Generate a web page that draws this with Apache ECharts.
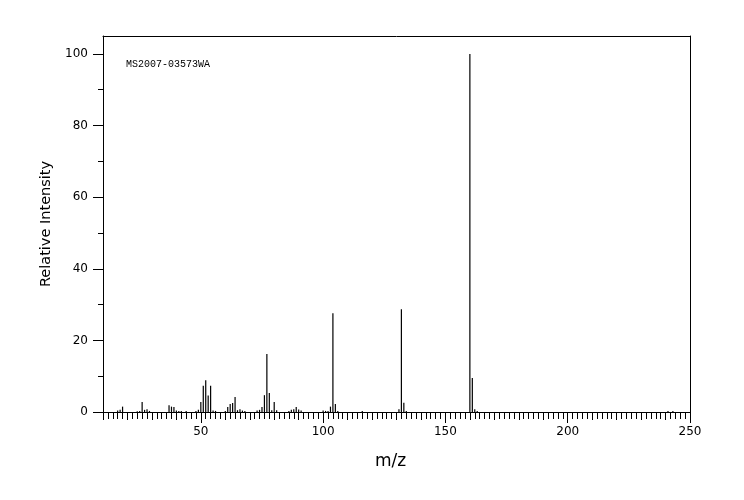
<!DOCTYPE html>
<html>
<head>
<meta charset="utf-8">
<script src="https://cdn.jsdelivr.net/npm/echarts@6/dist/echarts.min.js"></script>
<style>html,body{margin:0;padding:0;background:#fff}#c{width:744px;height:500px}</style>
</head>
<body>
<div id="c"></div>
<script>
// m/z values and relative intensities
const mzValues = [16,17,18,24,25,26,27,28,29,37,38,39,40,41,42,44,48,49,50,51,52,53,54,55,56,60,61,62,63,64,65,66,67,68,73,74,75,76,77,78,79,80,81,86,87,88,89,90,91,100,101,102,103,104,105,106,116,131,132,133,134,160,161,162,163,241,243];
const intensities = [0.4,0.6,1.5,0.2,0.3,2.8,0.6,0.8,0.3,1.9,1.5,1.4,0.4,0.3,0.3,0.3,0.3,0.6,2.8,7.3,8.9,4.6,7.3,0.4,0.3,0.3,1.4,2.2,2.5,4.2,0.5,0.8,0.4,0.3,0.4,0.6,1.4,4.7,16.2,5.3,0.5,2.8,0.5,0.3,0.6,0.8,1.4,0.7,0.4,0.4,0.3,0.3,1.5,27.6,2.2,0.3,0.3,0.8,28.7,2.6,0.3,100,9.5,0.8,0.3,0.3,0.3];
const xMajorTicks = [50,100,150,200,250];
const xMidTicks = [10,20,30,40,50,60,70,80,90,100,110,120,130,140,150,160,170,180,190,200,210,220,230,240,250];
const yMajorTicks = [0,20,40,60,80,100];
const yMinorTicks = [10,30,50,70,90];
const sampleId = 'MS2007-03573WA';

const data = mzValues.map((m, i) => [m, intensities[i]]);
const black = '#000';
const lineStyle = {color: black, width: 1};

const chart = echarts.init(document.getElementById('c'), null, {renderer: 'canvas'});
chart.setOption({
  animation: false,
  backgroundColor: '#fff',
  title: {
    text: sampleId, left: 126, top: 59, padding: 0,
    textStyle: {fontFamily: 'Liberation Mono', fontSize: 10, fontWeight: 'normal', color: black}
  },
  grid: {left: 103, right: 54, top: 36, bottom: 88},
  xAxis: [
    {
      type: 'value', min: 10, max: 250, position: 'bottom',
      name: 'm/z', nameLocation: 'middle', nameGap: 41,
      nameTextStyle: {fontFamily: 'DejaVu Sans', fontSize: 17, color: black, padding: [0, 12, 0, 0]},
      axisLine: {show: true, onZero: false, lineStyle},
      axisTick: {show: true, customValues: xMidTicks, length: 8, lineStyle},
      axisLabel: {show: true, customValues: xMajorTicks, margin: 14, fontFamily: 'DejaVu Sans', fontSize: 12, color: black},
      splitLine: {show: false}
    },
    {
      type: 'value', min: 10, max: 250, interval: 2, position: 'bottom',
      axisLine: {show: false, onZero: false},
      axisTick: {show: true, length: 7, lineStyle},
      axisLabel: {show: false}, splitLine: {show: false}
    },
    {
      type: 'value', min: 10, max: 250, position: 'bottom',
      axisLine: {show: false, onZero: false},
      axisTick: {show: true, customValues: xMajorTicks, length: 11, lineStyle},
      axisLabel: {show: false}, splitLine: {show: false}
    },
    {
      type: 'value', min: 10, max: 250, position: 'top',
      axisLine: {show: true, onZero: false, lineStyle},
      axisTick: {show: false}, axisLabel: {show: false}, splitLine: {show: false}
    }
  ],
  yAxis: [
    {
      type: 'value', min: 0, max: 105, position: 'left',
      name: 'Relative Intensity', nameLocation: 'middle', nameGap: 44,
      nameTextStyle: {fontFamily: 'DejaVu Sans', fontSize: 14.5, color: black},
      axisLine: {show: true, onZero: false, lineStyle},
      axisTick: {show: true, customValues: yMajorTicks, length: 10, lineStyle},
      axisLabel: {show: true, customValues: yMajorTicks, margin: 15, fontFamily: 'DejaVu Sans', fontSize: 12, color: black},
      splitLine: {show: false}
    },
    {
      type: 'value', min: 0, max: 105, position: 'left',
      axisLine: {show: false, onZero: false},
      axisTick: {show: true, customValues: yMinorTicks, length: 5, lineStyle},
      axisLabel: {show: false}, splitLine: {show: false}
    },
    {
      type: 'value', min: 0, max: 105, position: 'right',
      axisLine: {show: true, onZero: false, lineStyle},
      axisTick: {show: false}, axisLabel: {show: false}, splitLine: {show: false}
    }
  ],
  series: [{
    type: 'bar', xAxisIndex: 0, yAxisIndex: 0,
    data: data, barWidth: 1.2,
    itemStyle: {color: black},
    silent: true
  }]
});
</script>
</body>
</html>
